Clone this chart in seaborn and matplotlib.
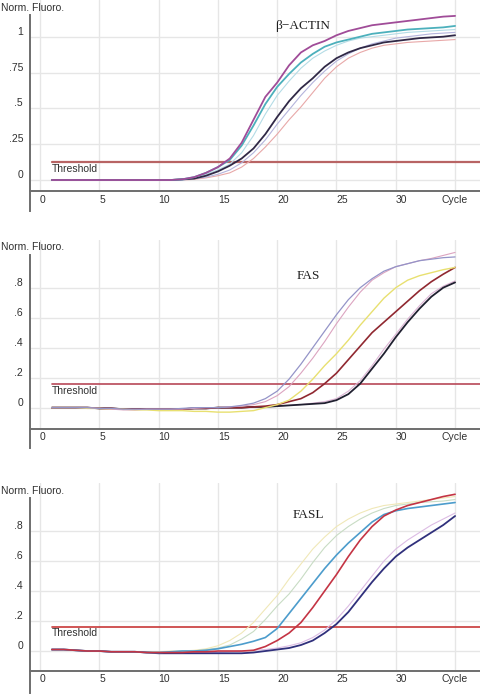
import numpy as np
import pandas as pd
import matplotlib
matplotlib.use("Agg")
import matplotlib.pyplot as plt
import seaborn as sns

sns.set_style("white")
plt.rcParams['font.family'] = ['Liberation Sans', 'DejaVu Sans']

cycles = list(range(1, 36))

# beta-actin
actin_magenta = [0, 0, 0, 0, 0, 0, 0, 0, 0, 0, 0, 0.005, 0.02, 0.05, 0.09, 0.15, 0.26, 0.42,
                 0.58, 0.68, 0.80, 0.89, 0.94, 0.97, 1.01, 1.04, 1.06, 1.08, 1.09, 1.10, 1.11,
                 1.12, 1.13, 1.14, 1.145]
actin_teal = [0, 0, 0, 0, 0, 0, 0, 0, 0, 0, 0, 0.005, 0.02, 0.05, 0.09, 0.14, 0.24, 0.38,
              0.53, 0.65, 0.74, 0.82, 0.88, 0.93, 0.96, 0.98, 1.00, 1.02, 1.03, 1.04, 1.05,
              1.055, 1.06, 1.065, 1.075]
actin_cyan = [0, 0, 0, 0, 0, 0, 0, 0, 0, 0, 0, 0, 0.015, 0.04, 0.07, 0.11, 0.19, 0.31,
              0.46, 0.59, 0.69, 0.78, 0.85, 0.90, 0.94, 0.97, 0.99, 1.00, 1.01, 1.02, 1.03,
              1.035, 1.04, 1.045, 1.05]
actin_navy = [0, 0, 0, 0, 0, 0, 0, 0, 0, 0, 0, 0.005, 0.01, 0.03, 0.06, 0.10, 0.15, 0.22,
              0.32, 0.44, 0.55, 0.64, 0.71, 0.79, 0.85, 0.89, 0.92, 0.94, 0.96, 0.97, 0.98,
              0.99, 0.995, 1.0, 1.01]
actin_lavender = [0, 0, 0, 0, 0, 0, 0, 0, 0, 0, 0, 0, 0.01, 0.02, 0.04, 0.07, 0.12, 0.19,
                  0.28, 0.39, 0.49, 0.59, 0.68, 0.76, 0.83, 0.88, 0.92, 0.95, 0.97, 0.99, 1.0,
                  1.01, 1.02, 1.025, 1.03]
actin_pink = [0, 0, 0, 0, 0, 0, 0, 0, 0, 0, 0, 0, 0.005, 0.015, 0.03, 0.05, 0.09, 0.15,
              0.23, 0.32, 0.42, 0.51, 0.61, 0.71, 0.79, 0.85, 0.89, 0.92, 0.94, 0.95, 0.96,
              0.965, 0.97, 0.975, 0.98]

# FAS
fas_lavender = [0, 0, 0, 0, -0.005, -0.005, -0.01, -0.01, -0.01, -0.01, -0.01, -0.005, 0, 0,
                0, 0.005, 0.015, 0.03, 0.06, 0.11, 0.19, 0.29, 0.40, 0.51, 0.62, 0.72, 0.80,
                0.86, 0.91, 0.94, 0.96, 0.98, 0.99, 1.0, 1.005]
fas_pink = [0, 0, 0, 0, -0.005, -0.01, -0.015, -0.015, -0.01, -0.01, -0.01, -0.01, -0.005, 0,
            0, 0.005, 0.01, 0.02, 0.04, 0.08, 0.14, 0.23, 0.33, 0.44, 0.56, 0.67, 0.77, 0.85,
            0.90, 0.94, 0.96, 0.98, 0.995, 1.015, 1.035]
fas_yellow = [0, 0, 0, -0.005, -0.005, -0.01, -0.01, -0.015, -0.015, -0.02, -0.02, -0.02,
              -0.025, -0.025, -0.03, -0.03, -0.025, -0.02, 0, 0.02, 0.05, 0.11, 0.19, 0.28,
              0.36, 0.45, 0.55, 0.64, 0.73, 0.80, 0.85, 0.88, 0.90, 0.92, 0.935]
fas_darkred = [0, 0, 0, 0, -0.005, -0.005, -0.01, -0.01, -0.01, -0.01, -0.01, -0.01, -0.005,
               -0.005, 0, 0, 0, 0.005, 0.01, 0.02, 0.04, 0.06, 0.10, 0.16, 0.23, 0.32, 0.41,
               0.50, 0.57, 0.64, 0.71, 0.78, 0.84, 0.89, 0.935]
fas_lightpink = [0, 0, 0, 0, -0.005, -0.005, -0.01, -0.01, -0.01, -0.01, -0.01, -0.01, -0.005,
                 -0.005, 0, 0, 0, 0.005, 0.005, 0.01, 0.015, 0.02, 0.03, 0.04, 0.06, 0.11,
                 0.18, 0.28, 0.39, 0.49, 0.59, 0.68, 0.76, 0.81, 0.845]
fas_black = [0, 0, 0, 0, -0.005, -0.005, -0.01, -0.01, -0.01, -0.01, -0.01, -0.01, -0.005,
             -0.005, 0, 0, 0, 0.005, 0.005, 0.01, 0.015, 0.02, 0.025, 0.03, 0.05, 0.09, 0.16,
             0.26, 0.36, 0.47, 0.57, 0.66, 0.74, 0.80, 0.835]

# FASL
fasl_yellow = [0.01, 0.01, 0.005, 0, 0, -0.005, -0.005, -0.005, -0.005, -0.005, 0, 0, 0.005,
               0.015, 0.035, 0.07, 0.12, 0.19, 0.28, 0.37, 0.48, 0.58, 0.68, 0.76, 0.83, 0.88,
               0.92, 0.95, 0.97, 0.98, 0.99, 1.0, 1.01, 1.02, 1.03]
fasl_green = [0.01, 0.01, 0.005, 0, 0, -0.005, -0.005, -0.005, -0.005, -0.005, -0.005, 0, 0,
              0.01, 0.02, 0.04, 0.08, 0.13, 0.21, 0.30, 0.38, 0.48, 0.59, 0.69, 0.77, 0.83,
              0.88, 0.92, 0.95, 0.97, 0.98, 0.99, 0.995, 1.0, 1.01]
fasl_blue = [0.01, 0.01, 0.005, 0, 0, -0.005, -0.005, -0.005, -0.01, -0.01, -0.005, 0, 0,
             0.005, 0.015, 0.03, 0.045, 0.065, 0.09, 0.15, 0.25, 0.35, 0.45, 0.55, 0.64, 0.72,
             0.79, 0.86, 0.91, 0.935, 0.95, 0.96, 0.97, 0.98, 0.99]
fasl_red = [0.01, 0.01, 0.005, 0, 0, -0.005, -0.005, -0.005, -0.01, -0.01, -0.01, -0.01,
            -0.005, -0.005, 0, 0, 0, 0.005, 0.03, 0.07, 0.12, 0.19, 0.29, 0.40, 0.51, 0.63,
            0.74, 0.83, 0.90, 0.94, 0.97, 0.99, 1.01, 1.03, 1.045]
fasl_purple = [0.01, 0.01, 0.005, 0, 0, -0.005, -0.005, -0.005, -0.01, -0.01, -0.01, -0.01,
               -0.01, -0.01, -0.01, -0.005, 0, 0.005, 0.01, 0.02, 0.035, 0.055, 0.09, 0.14,
               0.21, 0.30, 0.40, 0.50, 0.60, 0.68, 0.74, 0.79, 0.84, 0.88, 0.92]
fasl_navy = [0.01, 0.01, 0.005, 0, 0, -0.005, -0.005, -0.005, -0.01, -0.015, -0.015, -0.015,
             -0.015, -0.015, -0.015, -0.015, -0.015, -0.01, 0.0, 0.01, 0.02, 0.04, 0.07, 0.12,
             0.18, 0.26, 0.36, 0.46, 0.55, 0.63, 0.69, 0.74, 0.79, 0.84, 0.90]

x_ticks = [0, 5, 10, 15, 20, 25, 30, 35]
x_labels = ['0', '5', '10', '15', '20', '25', '30', 'Cycle']

panels = [
    dict(title='\u03b2\u2212ACTIN', threshold=0.128,
         curves=[('pink', actin_pink, '#e8a8a8', 0.8),
                 ('lavender', actin_lavender, '#b4b4dc', 0.8),
                 ('cyan', actin_cyan, '#b4dce6', 0.8),
                 ('navy', actin_navy, '#302846', 1.3),
                 ('teal', actin_teal, '#4cb0bc', 1.3),
                 ('magenta', actin_magenta, '#a04c98', 1.3)],
         yticks=[0, 0.25, 0.5, 0.75, 1], ylabels=['0', '.25', '.5', '.75', '1'],
         ylim=(-0.216, 1.256), xaxis_y=-0.077, spine_top=1.15,
         rect=[0.0625, 0.696, 0.9375, 0.304], thr_color='#b86464', thr_lw=1.6,
         title_xy=(22.1, 1.074), thr_text_y=0.077, label_y=8),
    dict(title='FAS', threshold=0.158,
         curves=[('lightpink', fas_lightpink, '#dcb4d4', 0.8),
                 ('black', fas_black, '#202030', 1.3),
                 ('darkred', fas_darkred, '#902830', 1.2),
                 ('yellow', fas_yellow, '#e8e070', 1.0),
                 ('pink', fas_pink, '#dca4c0', 0.8),
                 ('lavender', fas_lavender, '#9494c8', 0.9)],
         yticks=[0, 0.2, 0.4, 0.6, 0.8], ylabels=['0', '.2', '.4', '.6', '.8'],
         ylim=(-0.269, 1.118), xaxis_y=-0.142, spine_top=1.018,
         rect=[0.0625, 0.3545, 0.9375, 0.2997], thr_color='#b84858', thr_lw=1.2,
         title_xy=(22.6, 0.877), thr_text_y=0.113, label_y=247),
    dict(title='FASL', threshold=0.162,
         curves=[('yellow', fasl_yellow, '#f0e8b8', 0.8),
                 ('green', fasl_green, '#c8dcc4', 0.8),
                 ('purple', fasl_purple, '#dcbce4', 0.8),
                 ('navy', fasl_navy, '#30307c', 1.3),
                 ('blue', fasl_blue, '#4c9ccc', 1.2),
                 ('red', fasl_red, '#c43444', 1.2)],
         yticks=[0, 0.2, 0.4, 0.6, 0.8], ylabels=['0', '.2', '.4', '.6', '.8'],
         ylim=(-0.28, 1.12), xaxis_y=-0.131, spine_top=1.018,
         rect=[0.0625, 0.0014, 0.9375, 0.3026], thr_color='#c83838', thr_lw=1.2,
         title_xy=(22.6, 0.907), thr_text_y=0.118, label_y=491),
]

fig = plt.figure(figsize=(4.8, 6.94), dpi=100)
xlim = (-0.843, 37.1)
grid_c = '#e6e6e6'
axis_c = '#6e6e6e'

for p in panels:
    ax = fig.add_axes(p['rect'])
    ax.set_xlim(*xlim)
    ax.set_ylim(*p['ylim'])

    rows = []
    for name, vals, col, lw in p['curves']:
        rows.append(pd.DataFrame({'cycle': cycles, 'fluoro': vals, 'curve': name}))
    df = pd.concat(rows, ignore_index=True)
    palette = {name: col for name, vals, col, lw in p['curves']}
    sizes = {name: lw for name, vals, col, lw in p['curves']}
    sns.lineplot(data=df, x='cycle', y='fluoro', hue='curve', palette=palette,
                 size='curve', sizes=sizes, hue_order=[c[0] for c in p['curves']],
                 legend=False, ax=ax, zorder=3)

    # grid: vertical lines stop at the x axis
    y0, y1 = p['ylim']
    frac = (p['xaxis_y'] - y0) / (y1 - y0)
    for xt in x_ticks:
        ax.axvline(xt, ymin=frac, ymax=1, color=grid_c, lw=1.0, zorder=0)
    for yt in p['yticks']:
        ax.axhline(yt, color=grid_c, lw=1.0, zorder=0)

    # threshold
    ax.plot([1, xlim[1]], [p['threshold'], p['threshold']], color=p['thr_color'],
            lw=p['thr_lw'], zorder=2)
    ax.text(1, p['thr_text_y'], 'Threshold', fontsize=7.5, color='#303030',
            ha='left', va='center')

    ax.text(p['title_xy'][0], p['title_xy'][1], p['title'], fontsize=9.5,
            family=['Liberation Serif', 'DejaVu Serif'], ha='center', va='center',
            color='#202020')

    for s in ['top', 'right']:
        ax.spines[s].set_visible(False)
    ax.spines['left'].set_bounds(y0, p['spine_top'])
    ax.spines['left'].set_color(axis_c)
    ax.spines['left'].set_linewidth(1.4)
    ax.spines['bottom'].set_position(('data', p['xaxis_y']))
    ax.spines['bottom'].set_color(axis_c)
    ax.spines['bottom'].set_linewidth(1.4)
    ax.patch.set_alpha(0)

    # ticks after the spine move, which rebuilds the tick objects
    ax.set_xlabel('')
    ax.set_ylabel('')
    ax.tick_params(axis='x', direction='out', length=4, width=0.9, pad=-1.5,
                   labelsize=7.5, colors='#303030', color=axis_c)
    ax.tick_params(axis='y', direction='out', length=4, width=0.9, pad=1,
                   labelsize=7.5, colors='#303030', color=axis_c)
    ax.set_xticks(x_ticks)
    ax.set_xticklabels(x_labels, ha='left')
    ax.get_xticklabels()[-1].set_horizontalalignment('center')
    ax.get_xticklines()[-2].set_visible(False)
    ax.set_yticks(p['yticks'])
    ax.set_yticklabels(p['ylabels'], va='bottom')

    fig.text(1 / 480, 1 - p['label_y'] / 694, 'Norm. Fluoro.', fontsize=7.5,
             color='#303030', ha='left', va='center')

fig.savefig('out.png', dpi=100)
